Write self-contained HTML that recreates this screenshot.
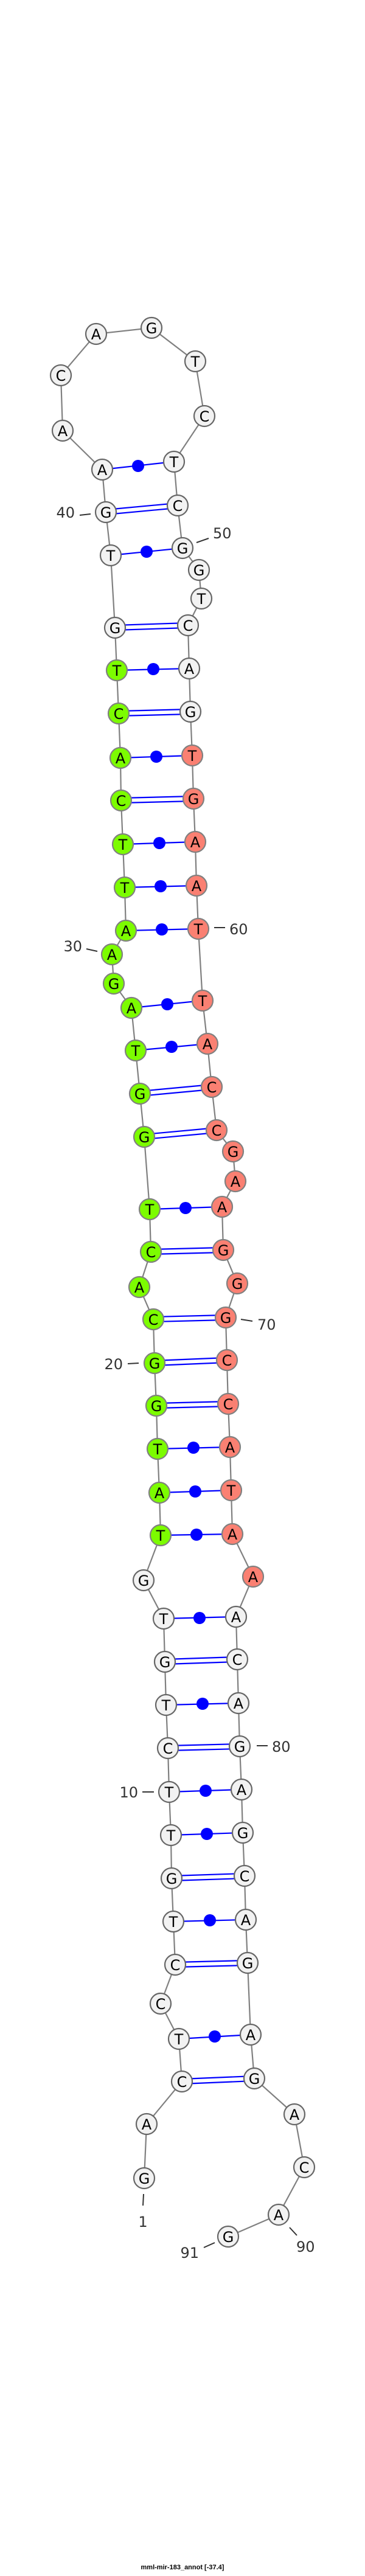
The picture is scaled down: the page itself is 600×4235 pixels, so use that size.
<!DOCTYPE html>
<html><head><meta charset="utf-8"><style>
html,body{margin:0;padding:0;background:#fff;}
svg{display:block;}
.n text{font-family:"DejaVu Sans","Liberation Sans",sans-serif;font-size:24px;text-anchor:middle;fill:#000;}
.lab{font-family:"DejaVu Sans","Liberation Sans",sans-serif;font-size:24px;fill:#333;}
</style></head><body>
<svg width="600" height="4235" viewBox="0 0 600 4235" xmlns="http://www.w3.org/2000/svg">
<polyline fill="none" stroke="#808080" stroke-width="2.2" points="237,3581 241,3492 299,3422 294,3352 264,3294 288,3230 285,3159 282,3088 281,3017 278,2946 276,2874 273,2803 271,2732 269,2661 236,2598 264,2524 262,2454 259,2382 257,2311 254,2241 252,2169 229,2116 248,2058 246,1988 237,1869 230,1798 223,1727 216,1657 187,1617 184,1569 207,1530 205,1459 202,1388 199,1316 198,1246 195,1173 192,1102 189,1032 182,913 174,842 168,772 103,708 100,617 158,549 249,539 321,594 336,684 286,759 292,831 300,901 327,937 331,984 309,1028 311,1099 313,1170 316,1242 318,1313 321,1384 323,1456 326,1527 333,1645 341,1716 348,1787 356,1858 383,1893 387,1942 365,1984 367,2055 390,2110 371,2166 373,2236 375,2308 378,2379 380,2450 382,2522 416,2592 388,2658 390,2728 392,2800 394,2871 397,2942 399,3013 402,3084 404,3156 407,3227 412,3345 418,3417 484,3476 500,3563 458,3641 375,3677"/>
<g stroke="#0000ff" stroke-width="2.2" fill="none">
<!-- double lines (GC) -->
<line x1="299" y1="3418" x2="418" y2="3413"/><line x1="299" y1="3426" x2="418" y2="3421"/>
<line x1="288" y1="3226" x2="407" y2="3223"/><line x1="288" y1="3234" x2="407" y2="3231"/>
<line x1="282" y1="3084" x2="402" y2="3080"/><line x1="282" y1="3092" x2="402" y2="3088"/>
<line x1="276" y1="2870" x2="394" y2="2867"/><line x1="276" y1="2878" x2="394" y2="2875"/>
<line x1="271" y1="2728" x2="390" y2="2724"/><line x1="271" y1="2736" x2="390" y2="2732"/>
<line x1="257" y1="2307" x2="375" y2="2304"/><line x1="257" y1="2315" x2="375" y2="2312"/>
<line x1="254" y1="2237" x2="373" y2="2232"/><line x1="254" y1="2245" x2="373" y2="2240"/>
<line x1="252" y1="2165" x2="371" y2="2162"/><line x1="252" y1="2173" x2="371" y2="2170"/>
<line x1="248" y1="2054" x2="367" y2="2051"/><line x1="248" y1="2062" x2="367" y2="2059"/>
<line x1="237" y1="1865" x2="356" y2="1854"/><line x1="237" y1="1873" x2="356" y2="1862"/>
<line x1="230" y1="1794" x2="348" y2="1783"/><line x1="230" y1="1802" x2="348" y2="1791"/>
<line x1="199" y1="1312" x2="318" y2="1309"/><line x1="199" y1="1320" x2="318" y2="1317"/>
<line x1="195" y1="1169" x2="313" y2="1166"/><line x1="195" y1="1177" x2="313" y2="1174"/>
<line x1="189" y1="1028" x2="309" y2="1024"/><line x1="189" y1="1036" x2="309" y2="1032"/>
<line x1="174" y1="838" x2="292" y2="827"/><line x1="174" y1="846" x2="292" y2="835"/>
<!-- single lines -->
<line x1="294" y1="3352" x2="412" y2="3345"/>
<line x1="285" y1="3159" x2="404" y2="3156"/>
<line x1="281" y1="3017" x2="399" y2="3013"/>
<line x1="278" y1="2946" x2="397" y2="2942"/>
<line x1="273" y1="2803" x2="392" y2="2800"/>
<line x1="269" y1="2661" x2="388" y2="2658"/>
<line x1="264" y1="2524" x2="382" y2="2522"/>
<line x1="262" y1="2454" x2="380" y2="2450"/>
<line x1="259" y1="2382" x2="378" y2="2379"/>
<line x1="246" y1="1988" x2="365" y2="1984"/>
<line x1="223" y1="1727" x2="341" y2="1716"/>
<line x1="216" y1="1657" x2="333" y2="1645"/>
<line x1="207" y1="1530" x2="326" y2="1527"/>
<line x1="205" y1="1459" x2="323" y2="1456"/>
<line x1="202" y1="1388" x2="321" y2="1384"/>
<line x1="198" y1="1246" x2="316" y2="1242"/>
<line x1="192" y1="1102" x2="311" y2="1099"/>
<line x1="182" y1="913" x2="300" y2="901"/>
<line x1="168" y1="772" x2="286" y2="759"/>
</g>
<g fill="#0000ff">
<circle cx="353" cy="3348" r="10"/><circle cx="345" cy="3157" r="10"/><circle cx="340" cy="3015" r="10"/>
<circle cx="338" cy="2944" r="10"/><circle cx="333" cy="2801" r="10"/><circle cx="328" cy="2660" r="10"/>
<circle cx="323" cy="2523" r="10"/><circle cx="321" cy="2452" r="10"/><circle cx="318" cy="2380" r="10"/>
<circle cx="305" cy="1986" r="10"/><circle cx="282" cy="1721" r="10"/><circle cx="275" cy="1651" r="10"/>
<circle cx="266" cy="1528" r="10"/><circle cx="264" cy="1457" r="10"/><circle cx="262" cy="1386" r="10"/>
<circle cx="257" cy="1244" r="10"/><circle cx="252" cy="1100" r="10"/><circle cx="241" cy="907" r="10"/>
<circle cx="227" cy="766" r="10"/>
</g>
<g class="n">
<g stroke="#666" stroke-width="2.2" fill="#f2f2f2">
<circle cx="237" cy="3581" r="17"/><circle cx="241" cy="3492" r="17"/><circle cx="299" cy="3422" r="17"/><circle cx="294" cy="3352" r="17"/><circle cx="264" cy="3294" r="17"/><circle cx="288" cy="3230" r="17"/><circle cx="285" cy="3159" r="17"/><circle cx="282" cy="3088" r="17"/><circle cx="281" cy="3017" r="17"/><circle cx="278" cy="2946" r="17"/><circle cx="276" cy="2874" r="17"/><circle cx="273" cy="2803" r="17"/><circle cx="271" cy="2732" r="17"/><circle cx="269" cy="2661" r="17"/><circle cx="236" cy="2598" r="17"/>
<circle cx="189" cy="1032" r="17"/><circle cx="182" cy="913" r="17"/><circle cx="174" cy="842" r="17"/><circle cx="168" cy="772" r="17"/><circle cx="103" cy="708" r="17"/><circle cx="100" cy="617" r="17"/><circle cx="158" cy="549" r="17"/><circle cx="249" cy="539" r="17"/><circle cx="321" cy="594" r="17"/><circle cx="336" cy="684" r="17"/><circle cx="286" cy="759" r="17"/><circle cx="292" cy="831" r="17"/><circle cx="300" cy="901" r="17"/><circle cx="327" cy="937" r="17"/><circle cx="331" cy="984" r="17"/><circle cx="309" cy="1028" r="17"/><circle cx="311" cy="1099" r="17"/><circle cx="313" cy="1170" r="17"/>
<circle cx="388" cy="2658" r="17"/><circle cx="390" cy="2728" r="17"/><circle cx="392" cy="2800" r="17"/><circle cx="394" cy="2871" r="17"/><circle cx="397" cy="2942" r="17"/><circle cx="399" cy="3013" r="17"/><circle cx="402" cy="3084" r="17"/><circle cx="404" cy="3156" r="17"/><circle cx="407" cy="3227" r="17"/><circle cx="412" cy="3345" r="17"/><circle cx="418" cy="3417" r="17"/><circle cx="484" cy="3476" r="17"/><circle cx="500" cy="3563" r="17"/><circle cx="458" cy="3641" r="17"/><circle cx="375" cy="3677" r="17"/>
</g>
<g stroke="#808080" stroke-width="2.2" fill="#7cfc00">
<circle cx="264" cy="2524" r="17"/><circle cx="262" cy="2454" r="17"/><circle cx="259" cy="2382" r="17"/><circle cx="257" cy="2311" r="17"/><circle cx="254" cy="2241" r="17"/><circle cx="252" cy="2169" r="17"/><circle cx="229" cy="2116" r="17"/><circle cx="248" cy="2058" r="17"/><circle cx="246" cy="1988" r="17"/><circle cx="237" cy="1869" r="17"/><circle cx="230" cy="1798" r="17"/><circle cx="223" cy="1727" r="17"/><circle cx="216" cy="1657" r="17"/><circle cx="187" cy="1617" r="17"/><circle cx="184" cy="1569" r="17"/><circle cx="207" cy="1530" r="17"/><circle cx="205" cy="1459" r="17"/><circle cx="202" cy="1388" r="17"/><circle cx="199" cy="1316" r="17"/><circle cx="198" cy="1246" r="17"/><circle cx="195" cy="1173" r="17"/><circle cx="192" cy="1102" r="17"/>
</g>
<g stroke="#808080" stroke-width="2.2" fill="#fa8072">
<circle cx="316" cy="1242" r="17"/><circle cx="318" cy="1313" r="17"/><circle cx="321" cy="1384" r="17"/><circle cx="323" cy="1456" r="17"/><circle cx="326" cy="1527" r="17"/><circle cx="333" cy="1645" r="17"/><circle cx="341" cy="1716" r="17"/><circle cx="348" cy="1787" r="17"/><circle cx="356" cy="1858" r="17"/><circle cx="383" cy="1893" r="17"/><circle cx="387" cy="1942" r="17"/><circle cx="365" cy="1984" r="17"/><circle cx="367" cy="2055" r="17"/><circle cx="390" cy="2110" r="17"/><circle cx="371" cy="2166" r="17"/><circle cx="373" cy="2236" r="17"/><circle cx="375" cy="2308" r="17"/><circle cx="378" cy="2379" r="17"/><circle cx="380" cy="2450" r="17"/><circle cx="382" cy="2522" r="17"/><circle cx="416" cy="2592" r="17"/>
</g>
<text x="237" y="3590">G</text><text x="241" y="3501">A</text><text x="299" y="3431">C</text><text x="294" y="3361">T</text><text x="264" y="3303">C</text><text x="288" y="3239">C</text><text x="285" y="3168">T</text><text x="282" y="3097">G</text><text x="281" y="3026">T</text><text x="278" y="2955">T</text><text x="276" y="2883">C</text><text x="273" y="2812">T</text><text x="271" y="2741">G</text><text x="269" y="2670">T</text><text x="236" y="2607">G</text>
<text x="264" y="2533">T</text><text x="262" y="2463">A</text><text x="259" y="2391">T</text><text x="257" y="2320">G</text><text x="254" y="2250">G</text><text x="252" y="2178">C</text><text x="229" y="2125">A</text><text x="248" y="2067">C</text><text x="246" y="1997">T</text><text x="237" y="1878">G</text><text x="230" y="1807">G</text><text x="223" y="1736">T</text><text x="216" y="1666">A</text><text x="187" y="1626">G</text><text x="184" y="1578">A</text><text x="207" y="1539">A</text><text x="205" y="1468">T</text><text x="202" y="1397">T</text><text x="199" y="1325">C</text><text x="198" y="1255">A</text><text x="195" y="1182">C</text><text x="192" y="1111">T</text>
<text x="189" y="1041">G</text><text x="182" y="922">T</text><text x="174" y="851">G</text><text x="168" y="781">A</text><text x="103" y="717">A</text><text x="100" y="626">C</text><text x="158" y="558">A</text><text x="249" y="548">G</text><text x="321" y="603">T</text><text x="336" y="693">C</text><text x="286" y="768">T</text><text x="292" y="840">C</text><text x="300" y="910">G</text><text x="327" y="946">G</text><text x="331" y="993">T</text><text x="309" y="1037">C</text><text x="311" y="1108">A</text><text x="313" y="1179">G</text>
<text x="316" y="1251">T</text><text x="318" y="1322">G</text><text x="321" y="1393">A</text><text x="323" y="1465">A</text><text x="326" y="1536">T</text><text x="333" y="1654">T</text><text x="341" y="1725">A</text><text x="348" y="1796">C</text><text x="356" y="1867">C</text><text x="383" y="1902">G</text><text x="387" y="1951">A</text><text x="365" y="1993">A</text><text x="367" y="2064">G</text><text x="390" y="2119">G</text><text x="371" y="2175">G</text><text x="373" y="2245">C</text><text x="375" y="2317">C</text><text x="378" y="2388">A</text><text x="380" y="2459">T</text><text x="382" y="2531">A</text><text x="416" y="2601">A</text>
<text x="388" y="2667">A</text><text x="390" y="2737">C</text><text x="392" y="2809">A</text><text x="394" y="2880">G</text><text x="397" y="2951">A</text><text x="399" y="3022">G</text><text x="402" y="3093">C</text><text x="404" y="3165">A</text><text x="407" y="3236">G</text><text x="412" y="3354">A</text><text x="418" y="3426">G</text><text x="484" y="3485">A</text><text x="500" y="3572">C</text><text x="458" y="3650">A</text><text x="375" y="3686">G</text>
</g>
<g stroke="#333" stroke-width="2">
<line x1="236" y1="3607" x2="235" y2="3626"/>
<line x1="234" y1="2946" x2="253" y2="2946"/>
<line x1="210" y1="2242" x2="228" y2="2241"/>
<line x1="142" y1="1560" x2="160" y2="1564"/>
<line x1="131" y1="847" x2="149" y2="845"/>
<line x1="323" y1="892" x2="343" y2="885"/>
<line x1="352" y1="1525" x2="370" y2="1525"/>
<line x1="396" y1="2169" x2="415" y2="2172"/>
<line x1="422" y1="2870" x2="440" y2="2870"/>
<line x1="476" y1="3662" x2="488" y2="3675"/>
<line x1="335" y1="3695" x2="353" y2="3687"/>
</g>
<g class="lab">
<text x="235" y="3661" text-anchor="middle">1</text>
<text x="227" y="2955" text-anchor="end">10</text>
<text x="202" y="2251" text-anchor="end">20</text>
<text x="135" y="1564" text-anchor="end">30</text>
<text x="123" y="851" text-anchor="end">40</text>
<text x="350" y="885">50</text>
<text x="377" y="1536">60</text>
<text x="423" y="2186">70</text>
<text x="447" y="2880">80</text>
<text x="487" y="3702">90</text>
<text x="327" y="3712" text-anchor="end">91</text>
</g>
<text x="300" y="4224" text-anchor="middle" font-family="Liberation Sans, sans-serif" font-size="11" font-weight="bold" fill="#000">mml-mir-183_annot [-37.4]</text>
</svg>
</body></html>
